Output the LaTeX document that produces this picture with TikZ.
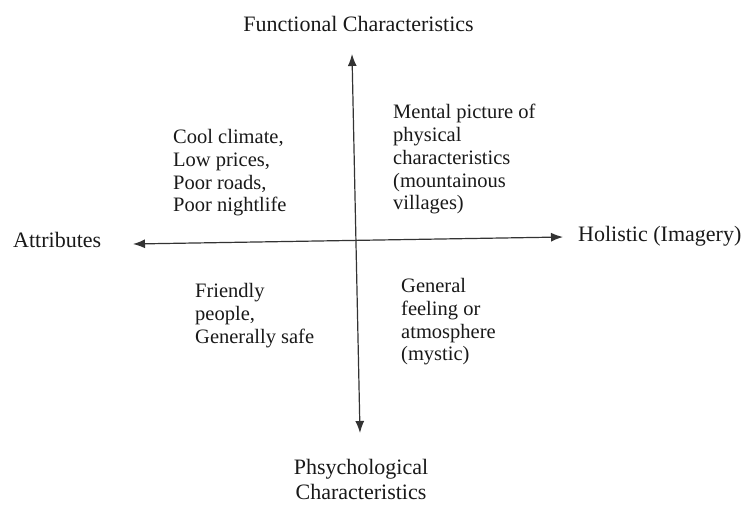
\documentclass[tikz,border=0pt]{standalone}
\usepackage{fontspec}
\setmainfont{Liberation Serif}
\usetikzlibrary{arrows.meta}
\begin{document}
\begin{tikzpicture}[x=1pt,y=-1pt,
  axis/.style={line width=1.2pt, draw=black!80,
    {Latex[length=12pt,width=9pt]}-{Latex[length=12pt,width=9pt]}},
  title/.style={font=\fontsize{22}{25.5}\selectfont, text=black!90, inner sep=0pt},
  quad/.style={font=\fontsize{20.5}{22.8}\selectfont, text=black!90, inner sep=0pt,
    align=left, anchor=north west},
]
\useasboundingbox (0,0) rectangle (747,504);

% axis end points
\coordinate (top) at (352,54);
\coordinate (bottom) at (360,433);
\coordinate (left) at (133,244);
\coordinate (right) at (563,237);

\draw[axis] (top) -- (bottom);
\draw[axis] (left) -- (right);

% axis labels
\node[title, anchor=base] (functional) at (358.5,31) {Functional Characteristics};
\node[title, anchor=base west] (attributes) at (13,247) {Attributes};
\node[title, anchor=base west] (holistic) at (578,241) {Holistic (Imagery)};
\node[title, anchor=north, align=center] (psych) at (361,459)
  {Phsychological\\Characteristics};

% quadrant contents
\node[quad] (tl) at (173,129) {Cool climate,\\Low prices,\\Poor roads,\\Poor nightlife};
\node[quad] (tr) at (393,104) {Mental picture of\\physical\\characteristics\\(mountainous\\villages)};
\node[quad] (bl) at (195,283) {Friendly\\people,\\Generally safe};
\node[quad] (br) at (401,278) {General\\feeling or\\atmosphere\\(mystic)};
\end{tikzpicture}
\end{document}
